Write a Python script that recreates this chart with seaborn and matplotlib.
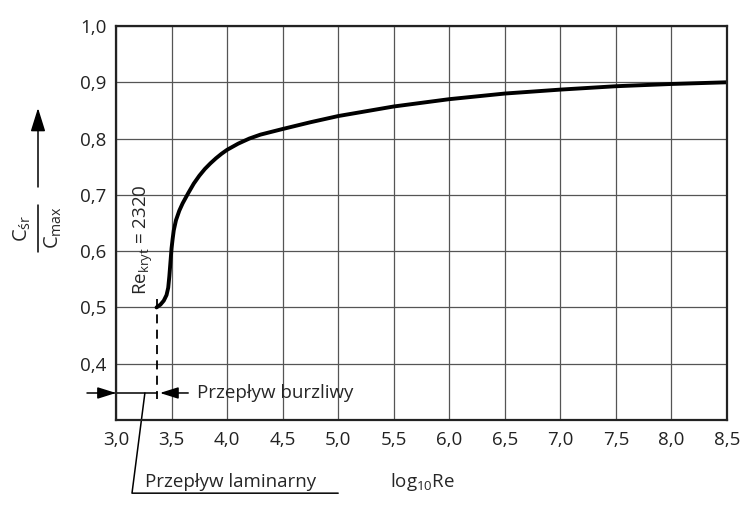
import numpy as np
import pandas as pd
import matplotlib
matplotlib.use("Agg")
import matplotlib.pyplot as plt
import seaborn as sns

# curve: log10(Re) vs C_sr / C_max
log_re = [3.365, 3.40, 3.43, 3.455, 3.47, 3.48, 3.49, 3.50, 3.51, 3.52,
          3.54, 3.57, 3.60, 3.65, 3.70, 3.75, 3.80, 3.85, 3.90, 3.95,
          4.00, 4.10, 4.20, 4.30, 4.40, 4.50, 4.75, 5.00, 5.50, 6.00,
          6.50, 7.00, 7.50, 8.00, 8.50]
c_ratio = [0.500, 0.505, 0.512, 0.522, 0.535, 0.555, 0.580, 0.605, 0.622, 0.637,
           0.655, 0.672, 0.685, 0.703, 0.720, 0.734, 0.746, 0.756, 0.765, 0.773,
           0.780, 0.791, 0.800, 0.807, 0.812, 0.817, 0.829, 0.840, 0.857, 0.870,
           0.880, 0.887, 0.893, 0.897, 0.900]

xticks = [3.0, 3.5, 4.0, 4.5, 5.0, 5.5, 6.0, 6.5, 7.0, 7.5, 8.0, 8.5]
xlabels = ["3,0", "3,5", "4,0", "4,5", "5,0", "5,5", "6,0", "6,5", "7,0", "7,5", "8,0", "8,5"]
yticks = [0.4, 0.5, 0.6, 0.7, 0.8, 0.9, 1.0]
ylabels = ["0,4", "0,5", "0,6", "0,7", "0,8", "0,9", "1,0"]

re_kryt = np.log10(2320)

sns.set_style("white")
plt.rcParams['font.family'] = ['Open Sans', 'DejaVu Sans']
plt.rcParams['mathtext.fontset'] = 'custom'
plt.rcParams['mathtext.rm'] = 'Open Sans'
plt.rcParams['mathtext.it'] = 'Open Sans'

df = pd.DataFrame({"logRe": log_re, "c": c_ratio})

fig = plt.figure(figsize=(7.5, 5.12), dpi=100)
ax = fig.add_axes([116 / 750, 1 - 420 / 512, 611 / 750, 394 / 512])

sns.lineplot(data=df, x="logRe", y="c", ax=ax, color="black", linewidth=2.8,
             sort=False, solid_capstyle="round", solid_joinstyle="round")

ax.set_xlim(3.0, 8.5)
ax.set_ylim(0.3, 1.0)
ax.set_xticks(xticks)
ax.set_xticklabels(xlabels)
ax.set_yticks(yticks)
ax.set_yticklabels(ylabels)
ax.tick_params(length=0, labelsize=13.5, colors="#222222")
ax.tick_params(axis="x", pad=8)
ax.tick_params(axis="y", pad=7)
ax.grid(True, color="#555555", linewidth=0.9)
ax.set_axisbelow(True)
for s in ax.spines.values():
    s.set_linewidth(1.6)
    s.set_color("#222222")
ax.set_xlabel("")
ax.set_ylabel("")

# critical Reynolds number marker
ax.plot([re_kryt, re_kryt], [0.515, 0.338], color="black", lw=1.3,
        linestyle=(0, (5, 3.5)), clip_on=False)
ax.text(3.243, 0.522, r"Re$_\mathregular{kryt}$ = 2320", rotation=90,
        ha="center", va="bottom", fontsize=13.5)

# regime arrows
yarr = 0.348
head = "-|>,head_length=0.7,head_width=0.22"
ax.plot([2.74, re_kryt], [yarr, yarr], color="black", lw=1.1, clip_on=False)
ax.annotate("", xy=(3.0, yarr), xytext=(2.85, yarr), annotation_clip=False,
            arrowprops=dict(arrowstyle=head, color="black", lw=1.1,
                            mutation_scale=16, shrinkA=0, shrinkB=0))
ax.annotate("", xy=(re_kryt + 0.03, yarr), xytext=(3.65, yarr), annotation_clip=False,
            arrowprops=dict(arrowstyle=head, color="black", lw=1.1,
                            mutation_scale=16, shrinkA=0, shrinkB=0))
ax.text(3.73, yarr, "Przepływ burzliwy", ha="left", va="center", fontsize=13.5)

# laminar label with leader line
ax.plot([3.26, 3.144, 5.0], [yarr, 0.170, 0.170], color="black", lw=1.1, clip_on=False)
ax.text(3.26, 0.181, "Przepływ laminarny", ha="left", va="baseline", fontsize=13.5)

ax.text(5.47, 0.181, r"log$_\mathregular{10}$Re", ha="left", va="baseline", fontsize=13.5)

# y label as a fraction with arrow
fig.text(22 / 750, 1 - 228 / 512, r"C$_\mathregular{śr}$", rotation=90,
         ha="center", va="center", fontsize=14.5)
fig.text(53 / 750, 1 - 228 / 512, r"C$_\mathregular{max}$", rotation=90,
         ha="center", va="center", fontsize=14.5)
fig.add_artist(plt.Line2D([38 / 750, 38 / 750], [1 - 205 / 512, 1 - 252 / 512],
                          color="black", lw=1.1))
fig.add_artist(matplotlib.patches.FancyArrowPatch(
    (38 / 750, 1 - 187 / 512), (38 / 750, 1 - 108 / 512),
    transform=fig.transFigure, arrowstyle="-|>,head_length=0.8,head_width=0.25",
    mutation_scale=18, color="black", lw=1.1, shrinkA=0, shrinkB=0))

fig.savefig("out.png", dpi=100)
